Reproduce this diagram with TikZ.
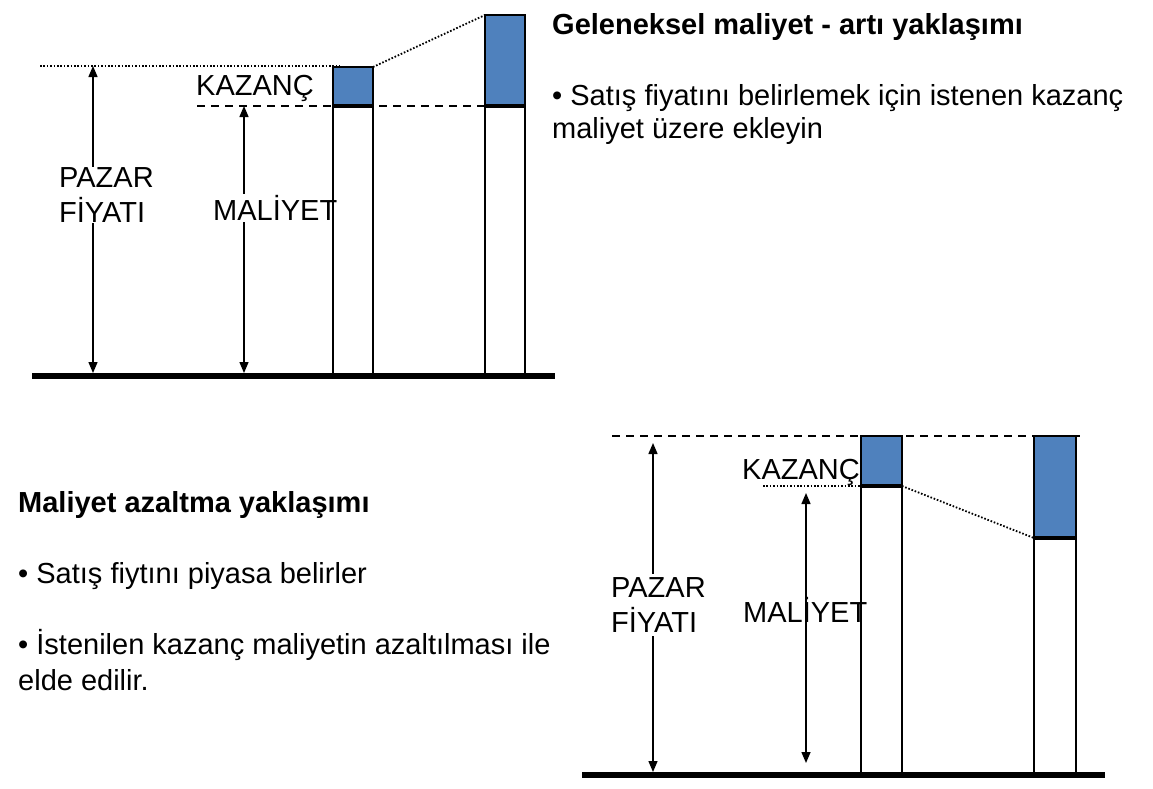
\documentclass[tikz,border=0pt]{standalone}
\usepackage{fontspec}
\setmainfont{Liberation Sans}
\usetikzlibrary{arrows.meta}
\definecolor{barblue}{RGB}{79,129,189}
\tikzset{
    dimarrow/.style={{Triangle[width=9pt,length=11pt]}-{Triangle[width=9pt,length=11pt]},line width=1.4pt},
    ground/.style={line width=6.5pt},
    barline/.style={line width=2pt},
    splitline/.style={line width=3.2pt},
    guide/.style={line width=1.5pt,dash pattern=on 8pt off 6pt},
    dotline/.style={line width=1.8pt,dash pattern=on 1.6pt off 1.8pt},
    lbl/.style={font=\fontsize{29}{35}\selectfont,inner sep=1pt},
    boxlbl/.style={lbl,fill=white,align=left},
    head/.style={lbl,font=\fontsize{29}{35}\selectfont\bfseries,anchor=west},
    txt/.style={lbl,anchor=west}
}
\begin{document}
\begin{tikzpicture}[x=1pt,y=-1pt]
    \useasboundingbox (0,0) rectangle (1153,788);

    \coordinate (g1l) at (32,376);
    \coordinate (g1r) at (555,376);
    \coordinate (p1t) at (93,66);
    \coordinate (p1b) at (93,373);
    \coordinate (m1t) at (244,106);
    \coordinate (m1b) at (244,373);
    \draw[dotline] (40,66) -- (340,66);
    \draw[guide] (197,106) -- (485,106);
    \draw[dimarrow] (p1t) -- (p1b);
    \draw[dimarrow] (m1t) -- (m1b);
    \node[boxlbl,anchor=west] (pazar1) at (58,195) {PAZAR\\F\.IYATI};
    \node[boxlbl,anchor=west] (maliyet1) at (212,208) {MAL\.IYET};
    \node[lbl,anchor=west] (kazanc1) at (195,88) {KAZANÇ};
    \fill[barblue] (333,67) rectangle (373,106);
    \draw[barline] (333,376) -- (333,67) -- (373,67) -- (373,376);
    \draw[splitline] (333,106) -- (373,106);
    \fill[barblue] (485,15) rectangle (525,106);
    \draw[barline] (485,376) -- (485,15) -- (525,15) -- (525,376);
    \draw[splitline] (485,106) -- (525,106);
    \draw[dotline] (373,67) -- (485,15);
    \draw[ground] (g1l) -- (g1r);

    \node[head] (title1) at (551,27) {Geleneksel maliyet - artı yaklaşımı};
    \node[txt] (item1a) at (551,98) {• Satış fiyatını belirlemek için istenen kazanç};
    \node[txt] (item1b) at (551,131) {maliyet üzere ekleyin};

    \coordinate (g2l) at (582,775);
    \coordinate (g2r) at (1105,775);
    \coordinate (p2t) at (653,443);
    \coordinate (p2b) at (653,772);
    \coordinate (m2t) at (806,493);
    \coordinate (m2b) at (806,763);
    \draw[guide] (612,436) -- (1080,436);
    \draw[dotline] (763,486) -- (861,486);
    \draw[dimarrow] (p2t) -- (p2b);
    \draw[dimarrow] (m2t) -- (m2b);
    \node[boxlbl,anchor=west,inner ysep=4pt] (pazar2) at (610,605) {PAZAR\\F\.IYATI};
    \node[lbl,anchor=west] (maliyet2) at (742,610) {MAL\.IYET};
    \node[lbl,anchor=west] (kazanc2) at (741,472) {KAZANÇ};
    \fill[barblue] (861,436) rectangle (902,486);
    \draw[barline] (861,775) -- (861,436) -- (902,436) -- (902,775);
    \draw[splitline] (861,486) -- (902,486);
    \fill[barblue] (1034,436) rectangle (1076,538);
    \draw[barline] (1034,775) -- (1034,436) -- (1076,436) -- (1076,775);
    \draw[splitline] (1034,538) -- (1076,538);
    \draw[dotline] (902,486) -- (1034,538);
    \draw[ground] (g2l) -- (g2r);

    \node[head] (title2) at (17,505) {Maliyet azaltma yaklaşımı};
    \node[txt] (item2a) at (17,576) {• Satış fiytını piyasa belirler};
    \node[txt] (item2b) at (17,645) {• İstenilen kazanç maliyetin azaltılması ile};
    \node[txt] (item2c) at (17,680) {elde edilir.};
\end{tikzpicture}
\end{document}
